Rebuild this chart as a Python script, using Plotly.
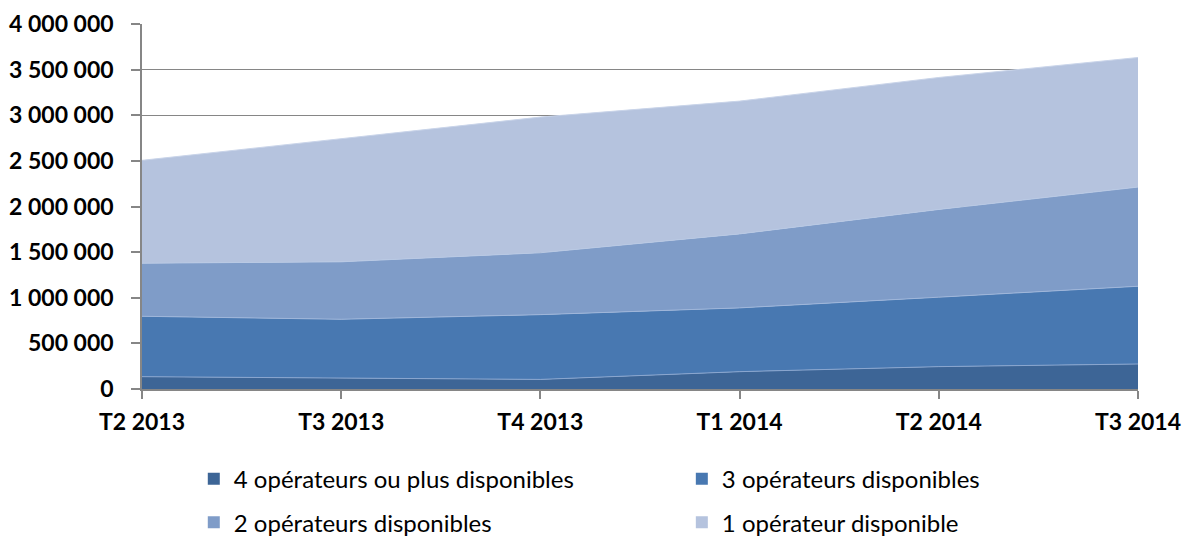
import plotly.graph_objects as go

categories = ["T2 2013", "T3 2013", "T4 2013", "T1 2014", "T2 2014", "T3 2014"]
ops4 = [135000, 121000, 105000, 190000, 245000, 274000]
ops3 = [662000, 643000, 710000, 699000, 761000, 852000]
ops2 = [582000, 630000, 678000, 811000, 962000, 1087000]
ops1 = [1127000, 1353000, 1487000, 1455000, 1446000, 1420000]

names = ["4 opérateurs ou plus disponibles", "3 opérateurs disponibles",
         "2 opérateurs disponibles", "1 opérateur disponible"]
series = [ops4, ops3, ops2, ops1]
colors = ["#3D6596", "#4878B1", "#7F9CC8", "#B5C3DE"]
edge = ["#8aa6cf", "#9fb6da", "#b9c9e4", "#c9d4e9"]
legend_ids = ["legend", "legend2", "legend3", "legend4"]
legend_pos = [(0.052, -0.247), (0.542, -0.247), (0.052, -0.366), (0.542, -0.366)]

ytick_vals = [0, 500000, 1000000, 1500000, 2000000, 2500000, 3000000, 3500000, 4000000]
ytick_text = ["0", "500 000", "1 000 000", "1 500 000", "2 000 000", "2 500 000",
              "3 000 000", "3 500 000", "4 000 000"]

fig = go.Figure()
for name, vals, col, ed in zip(names, series, colors, edge):
    fig.add_trace(go.Scatter(
        x=categories, y=vals, name=name, stackgroup="one", mode="lines",
        line=dict(color=ed, width=1), fillcolor=col, showlegend=False,
        hoverinfo="x+y+name"))
for name, col, lg in zip(names, colors, legend_ids):
    fig.add_trace(go.Scatter(
        x=[None], y=[None], name=name, mode="markers",
        marker=dict(symbol="square", size=12, color=col),
        showlegend=True, legend=lg))

axis_col = "#868686"
legend_layout = {}
for lg, (lx, ly) in zip(legend_ids, legend_pos):
    legend_layout[lg] = dict(orientation="h", x=lx, y=ly, xanchor="left", yanchor="middle",
                             font=dict(family="Lato", size=24, color="black"),
                             bgcolor="rgba(0,0,0,0)")

fig.update_layout(
    width=1186, height=537,
    margin=dict(l=142, r=48, t=24, b=148, autoexpand=False),
    paper_bgcolor="white", plot_bgcolor="white",
    font=dict(family="Lato", color="black"),
    xaxis=dict(type="category", range=[0, 5], showgrid=False,
               showline=True, linecolor=axis_col, linewidth=1.5,
               ticks="outside", ticklen=8, tickcolor=axis_col, tickwidth=1.5,
               tickfont=dict(family="Lato", size=23, color="black", weight="bold"),
               ticklabelstandoff=4),
    yaxis=dict(range=[0, 4000000], tickvals=ytick_vals, ticktext=ytick_text,
               showgrid=True, gridcolor=axis_col, gridwidth=1,
               showline=True, linecolor=axis_col, linewidth=1.5,
               ticks="outside", ticklen=9, tickcolor=axis_col, tickwidth=1.5,
               tickfont=dict(family="Lato", size=23, color="black", weight="bold"),
               ticklabelstandoff=13, zeroline=False),
    **legend_layout,
)

fig.write_html("out.html", config={"displayModeBar": False},
               post_script="document.body.style.margin='0px';")
